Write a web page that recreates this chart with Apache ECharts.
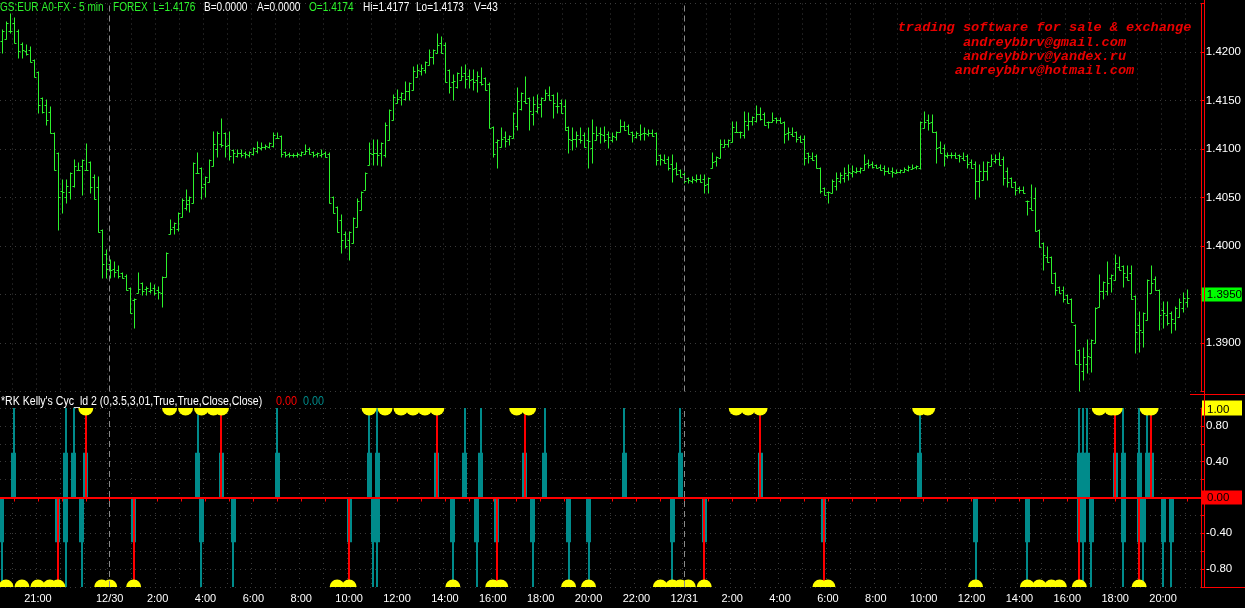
<!DOCTYPE html>
<html><head><meta charset="utf-8">
<script src="https://cdn.jsdelivr.net/npm/echarts@6/dist/echarts.min.js"></script>
<style>html,body{margin:0;padding:0;background:#000;overflow:hidden;}#c{width:1245px;height:608px;}</style>
</head><body><div id="c"></div>
<script>
// ---------- DATA ----------
// 10-minute bars starting 12/29 19:30; prices in pips (1.4176 -> 14176)
const barStart = {day: 29, minutes: 19 * 60 + 30};
const barMinutes = 10;
const slotCount = 301;
const priceHigh = [14223,14231,14239,14235,14223,14209,14207,14205,14192,14179,
14153,14151,14143,14117,14096,14068,14068,14075,14089,14086,
14089,14105,14087,14073,14071,14017,13996,13986,13983,13979,
13972,13970,13957,13945,13972,13962,13958,13962,13960,13958,
13968,13993,14027,14024,14034,14048,14058,14051,14086,14096,
14080,14071,14089,14118,14118,14131,14117,14118,14099,14099,
14099,14097,14097,14101,14107,14106,14104,14106,14117,14117,
14113,14097,14096,14095,14096,14097,14104,14101,14097,14096,
14099,14097,14096,14051,14040,14032,14014,14014,14029,14048,
14056,14075,14106,14109,14109,14106,14127,14140,14156,14161,
14158,14169,14168,14185,14187,14187,14190,14202,14202,14219,
14215,14209,14181,14176,14178,14185,14187,14181,14181,14179,
14184,14173,14168,14123,14109,14122,14118,14113,14137,14163,
14158,14174,14153,14154,14156,14153,14161,14164,14156,14158,
14151,14151,14123,14122,14118,14122,14117,14122,14130,14123,
14122,14123,14118,14117,14118,14130,14128,14125,14118,14118,
14125,14122,14120,14120,14117,14094,14094,14092,14094,14086,
14078,14075,14070,14071,14073,14073,14073,14070,14096,14092,
14109,14109,14109,14128,14128,14118,14138,14137,14133,14144,
14142,14137,14128,14137,14132,14132,14128,14122,14122,14118,
14113,14113,14096,14096,14094,14080,14060,14056,14068,14075,
14075,14080,14083,14082,14080,14080,14094,14089,14087,14083,
14083,14082,14080,14080,14078,14078,14080,14082,14083,14082,
14128,14138,14135,14135,14118,14107,14104,14096,14096,14096,
14094,14096,14094,14089,14087,14083,14087,14087,14094,14094,
14096,14092,14080,14070,14066,14061,14061,14046,14063,14060,
14017,14003,13999,13989,13972,13958,13958,13950,13945,13919,
13893,13895,13903,13903,13936,13970,13963,13984,13970,13991,
13989,13979,13979,13979,13948,13932,13931,13965,13979,13968,
13955,13942,13942,13932,13937,13945,13952,13955];
const priceLow = [14199,14213,14220,14209,14194,14194,14197,14190,14174,14137,
14137,14125,14117,14078,14017,14034,14044,14048,14061,14078,
14053,14078,14055,14048,14014,13967,13967,13967,13968,13967,
13967,13955,13931,13915,13952,13950,13950,13952,13950,13945,
13937,13968,14012,14012,14015,14030,14037,14035,14044,14075,
14048,14051,14066,14082,14092,14102,14092,14089,14086,14092,
14092,14091,14092,14094,14096,14099,14100,14101,14102,14111,
14092,14092,14092,14092,14092,14093,14095,14095,14092,14092,
14092,14092,14044,14034,14014,13993,13998,13986,14003,14020,
14037,14058,14083,14083,14083,14082,14092,14109,14130,14147,
14145,14151,14151,14161,14174,14176,14178,14187,14188,14199,
14199,14169,14158,14151,14163,14171,14163,14163,14161,14159,
14166,14161,14122,14092,14080,14102,14102,14104,14111,14120,
14140,14147,14120,14125,14137,14133,14151,14151,14132,14137,
14137,14120,14096,14099,14102,14106,14102,14080,14086,14109,
14106,14107,14101,14107,14109,14118,14120,14115,14107,14111,
14109,14109,14113,14113,14083,14083,14086,14078,14066,14073,
14071,14065,14065,14065,14066,14066,14055,14055,14080,14082,
14091,14102,14102,14107,14118,14111,14111,14120,14125,14128,
14130,14125,14122,14128,14127,14127,14106,14109,14113,14107,
14107,14083,14086,14089,14080,14055,14053,14044,14055,14058,
14065,14066,14068,14071,14075,14075,14078,14080,14080,14080,
14078,14073,14075,14071,14075,14075,14076,14077,14079,14079,
14079,14122,14120,14118,14086,14096,14082,14091,14091,14091,
14087,14089,14080,14080,14048,14051,14068,14068,14082,14086,
14083,14063,14061,14061,14053,14055,14055,14032,14037,14015,
13999,13975,13983,13962,13950,13952,13942,13941,13922,13878,
13850,13862,13869,13870,13900,13937,13945,13950,13953,13965,
13975,13958,13965,13945,13890,13891,13896,13924,13952,13955,
13913,13915,13919,13910,13913,13927,13932,13937];

// indicator: [bar index, value]
const tealSpikes = [[3,1],[16,1],[18,1],[49,1],[69,1],[92,1],[94,1],[116,1],[120,1],[136,1],[156,1],[170,1],[230,1],[270,1],[271,1],[272,1],[281,1],[285,1],[287,1],
  [0,-1],[16,-1],[20,-1],[50,-1],[58,-1],[93,-1],[94,-1],[113,-1],[119,-1],[133,-1],[142,-1],[147,-1],[168,-1],[244,-1],[257,-1],[271,-1],[273,-1],[281,-1],[286,-1],[291,-1],[293,-1]];
const redSpikes = [[21,1],[55,1],[109,1],[131,1],[190,1],[279,1],[288,1],
  [14,-1],[33,-1],[87,-1],[124,-1],[176,-1],[206,-1],[270,-1],[285,-1]];
const spikeInnerLevel = 0.5;
const yellowDots = [[21,1],[42,1],[46,1],[50,1],[53,1],[55,1],[92,1],[96,1],[100,1],[103,1],[106,1],[109,1],[129,1],[132,1],[184,1],[187,1],[190,1],[230,1],[232,1],[275,1],[278,1],[279,1],[287,1],[288,1],
  [1,-1],[5,-1],[9,-1],[12,-1],[14,-1],[25,-1],[27,-1],[33,-1],[84,-1],[87,-1],[113,-1],[123,-1],[125,-1],[142,-1],[147,-1],[165,-1],[168,-1],[170,-1],[172,-1],[176,-1],[205,-1],[207,-1],[244,-1],[257,-1],[260,-1],[263,-1],[265,-1],[270,-1],[285,-1]];

const labelTimes = ['12/29 21:00','12/30 00:00','12/30 02:00','12/30 04:00','12/30 06:00','12/30 08:00','12/30 10:00','12/30 12:00','12/30 14:00','12/30 16:00','12/30 18:00','12/30 20:00','12/30 22:00','12/31 00:00','12/31 02:00','12/31 04:00','12/31 06:00','12/31 08:00','12/31 10:00','12/31 12:00','12/31 14:00','12/31 16:00','12/31 18:00','12/31 20:00'];
const labelTexts = ['21:00','12/30','2:00','4:00','6:00','8:00','10:00','12:00','14:00','16:00','18:00','20:00','22:00','12/31','2:00','4:00','6:00','8:00','10:00','12:00','14:00','16:00','18:00','20:00'];
const dayBreaks = ['12/30 00:00','12/31 00:00'];
const priceTicks = {min: 1.385, max: 1.425, step: 0.005, highlight: '1.3950'};

const headerParts = [
  ['GS:EUR A0-FX - 5 min', 'g'], ['FOREX', 'g'], ['L=1.4176', 'g'], ['B=0.0000', 'w'], ['A=0.0000', 'w'],
  ['O=1.4174', 'g'], ['Hi=1.4177', 'w'], ['Lo=1.4173', 'w'], ['V=43', 'w']];
const headerX = [0, 113, 153, 204, 257, 309, 363, 416, 474];
const adLines = ['trading software for sale & exchange', 'andreybbrv@gmail.com', 'andreybbrv@yandex.ru', 'andreybbrv@hotmail.com'];

// ---------- BUILD ----------
const categories = [];
for (let i = 0; i < slotCount; i++) {
  const m = barStart.minutes + i * barMinutes;
  const day = barStart.day + Math.floor(m / 1440);
  const mm = m % 1440;
  categories.push('12/' + day + ' ' + String(Math.floor(mm / 60)).padStart(2, '0') + ':' + String(mm % 60).padStart(2, '0'));
}
const priceData = priceHigh.map((h, i) => [i, priceLow[i] / 10000, h / 10000]);
const allSpikes = tealSpikes.concat(redSpikes);
const innerData = allSpikes.map(s => [s[0], s[1] * spikeInnerLevel]);

const GREEN = '#2cf22c', TEAL = '#008b8b', RED = '#ff0000', YEL = '#ffff00';
const GRIDC = '#3a3a3a';
const FONT = 'Liberation Sans';
const isHour = (v) => v.slice(-2) === '00';

function spikeRender(width, color) {
  return function (params, api) {
    const x = api.value(0), v = api.value(1);
    const p0 = api.coord([x, 0]), p1 = api.coord([x, v]);
    const top = Math.min(p0[1], p1[1]), h = Math.abs(p1[1] - p0[1]);
    return {type: 'rect', shape: {x: Math.round(p0[0] - width / 2), y: top, width: width, height: h}, style: {fill: color}};
  };
}
// level where a bar's side tick meets its neighbour
function joinLevel(i, j) {
  if (j < 0 || j >= priceHigh.length) return (priceHigh[i] + priceLow[i]) / 2;
  const mid = (priceHigh[j] + priceLow[j]) / 2;
  return Math.min(priceHigh[i], Math.max(priceLow[i], mid));
}

const chart = echarts.init(document.getElementById('c'), null, {renderer: 'canvas'});
const graphics = [];
headerParts.forEach((p, i) => graphics.push({type: 'text', x: headerX[i], y: 8, scaleX: 0.84, z: 100,
  style: {x: 0, y: 0, text: p[0], fill: p[1] === 'g' ? GREEN : '#ffffff', font: '12px "' + FONT + '"', textVerticalAlign: 'middle'}}));
adLines.forEach((t, i) => graphics.push({type: 'text', z: 100, x: 1044.5, y: 28 + i * 14.3,
  style: {text: t, fill: '#e80000', font: 'italic bold 13.6px "Liberation Mono"', textAlign: 'center', textVerticalAlign: 'middle'}}));
graphics.push({type: 'text', x: 1, y: 402, scaleX: 0.88, z: 100, style: {x: 0, y: 0, text: "*RK Kelly's Cyc_ld 2 (0,3.5,3,01,True,True,Close,Close)", fill: '#fff', font: '12px "' + FONT + '"', textVerticalAlign: 'middle'}});
graphics.push({type: 'text', x: 276, y: 402, scaleX: 0.9, z: 100, style: {x: 0, y: 0, text: '0.00', fill: RED, font: '12px "' + FONT + '"', textVerticalAlign: 'middle'}});
graphics.push({type: 'text', x: 303, y: 402, scaleX: 0.9, z: 100, style: {x: 0, y: 0, text: '0.00', fill: TEAL, font: '12px "' + FONT + '"', textVerticalAlign: 'middle'}});
graphics.push({type: 'line', z: 50, shape: {x1: 1204.5, y1: 0, x2: 1204.5, y2: 588}, style: {stroke: RED, lineWidth: 1}});
graphics.push({type: 'line', z: 50, shape: {x1: 1190, y1: 394.5, x2: 1245, y2: 394.5}, style: {stroke: RED, lineWidth: 1}});
graphics.push({type: 'line', z: 50, shape: {x1: 1204, y1: 587.5, x2: 1245, y2: 587.5}, style: {stroke: RED, lineWidth: 1}});

const baseX = {
  type: 'category', data: categories, boundaryGap: true,
  axisLine: {show: false}, axisTick: {show: false}, axisLabel: {show: false},
  splitLine: {show: true, interval: (i, v) => isHour(v), lineStyle: {color: GRIDC, type: [1, 4]}}
};
const tok = (extra) => Object.assign({color: '#fff', fontSize: 11.5, fontFamily: FONT, align: 'left', width: 35, height: 12, lineHeight: 12, padding: [1, 1, 1, 4]}, extra || {});
const labelBase = {color: '#fff', fontFamily: FONT, fontSize: 11.5, margin: 1, align: 'left', verticalAlign: 'middle'};

chart.setOption({
  backgroundColor: '#000',
  animation: false,
  grid: [
    {left: 0, right: 41, top: 3.5, height: 388},
    {left: 0, right: 41, top: 408, height: 179}
  ],
  xAxis: [
    Object.assign({gridIndex: 0}, baseX),
    Object.assign({}, baseX, {
      gridIndex: 1,
      axisLine: {show: true, lineStyle: {color: RED, width: 1}},
      axisTick: {show: true, alignWithLabel: true, interval: (i, v) => isHour(v), length: 4, lineStyle: {color: RED}},
      axisLabel: {show: true, color: '#fff', fontFamily: FONT, fontSize: 11, margin: 6,
        interval: (i, v) => labelTimes.indexOf(v) >= 0,
        formatter: (v) => { const k = labelTimes.indexOf(v); return k >= 0 ? labelTexts[k] : ''; }}
    })
  ],
  yAxis: [
    {type: 'value', gridIndex: 0, position: 'right', min: priceTicks.min, max: priceTicks.max, interval: priceTicks.step,
      axisLine: {show: true, lineStyle: {color: RED}},
      axisTick: {show: true, length: 4, lineStyle: {color: RED}},
      splitLine: {show: true, lineStyle: {color: GRIDC, type: [1, 4]}},
      axisLabel: Object.assign({}, labelBase, {
        formatter: (v) => { const s = v.toFixed(4); if (s === priceTicks.highlight) return '{g|' + s + '}';
          if (Math.abs(v - priceTicks.min) < 1e-7 || Math.abs(v - priceTicks.max) < 1e-7) return ''; return '{n|' + s + '}'; },
        rich: {n: tok(), g: tok({backgroundColor: '#00ff00', color: '#000', padding: [1, 0, 1, 5]})}})},
    {type: 'value', gridIndex: 1, position: 'right', min: -1, max: 1, interval: 0.2,
      axisLine: {show: true, lineStyle: {color: RED}},
      axisTick: {show: true, length: 4, lineStyle: {color: RED}},
      splitLine: {show: true, lineStyle: {color: GRIDC, type: [1, 4]}},
      axisLabel: Object.assign({}, labelBase, {showMinLabel: true, showMaxLabel: true,
        formatter: (v) => { const r = Math.round(v * 100) / 100;
          if (r === 1) return '{y|1.00}'; if (r === 0) return '{r|0.00}';
          if (Math.abs(r) === 0.8 || Math.abs(r) === 0.4) return '{n|' + r.toFixed(2) + '}'; return ''; },
        rich: {n: tok(), y: tok({backgroundColor: YEL, color: '#000', padding: [3, 0, 0, 5]}),
               r: tok({backgroundColor: RED, color: '#000', padding: [1, 0, 1, 5]})}})}
  ],
  series: [
    {type: 'custom', name: 'price', xAxisIndex: 0, yAxisIndex: 0, data: priceData, clip: true,
      encode: {x: 0, y: [1, 2]},
      renderItem: (params, api) => {
        const i = api.value(0);
        const a = api.coord([i, api.value(2)]), b = api.coord([i, api.value(1)]);
        const x = Math.round(a[0]) + 0.5;
        const yl = api.coord([i, joinLevel(i, i - 1) / 10000])[1];
        const yr = api.coord([i, joinLevel(i, i + 1) / 10000])[1];
        const st = {stroke: GREEN, lineWidth: 1};
        return {type: 'group', children: [
          {type: 'line', shape: {x1: x, y1: Math.round(a[1]) - 0.5, x2: x, y2: Math.round(b[1]) + 0.5}, style: st},
          {type: 'line', shape: {x1: x - 2, y1: Math.round(yl) + 0.5, x2: x, y2: Math.round(yl) + 0.5}, style: st},
          {type: 'line', shape: {x1: x, y1: Math.round(yr) + 0.5, x2: x + 2, y2: Math.round(yr) + 0.5}, style: st}
        ]};
      },
      markLine: {silent: true, symbol: 'none', label: {show: false}, lineStyle: {color: '#8a8a8a', type: [6, 4], width: 1},
        data: dayBreaks.map(d => ({xAxis: d}))}},
    {type: 'custom', name: 'inner', xAxisIndex: 1, yAxisIndex: 1, data: innerData, renderItem: spikeRender(5, TEAL),
      markLine: {silent: true, symbol: 'none', label: {show: false}, lineStyle: {color: '#8a8a8a', type: [6, 4], width: 1},
        data: dayBreaks.map(d => ({xAxis: d}))}},
    {type: 'custom', name: 'teal', xAxisIndex: 1, yAxisIndex: 1, data: tealSpikes, renderItem: spikeRender(2, TEAL)},
    {type: 'custom', name: 'red', xAxisIndex: 1, yAxisIndex: 1, data: redSpikes, renderItem: spikeRender(2, RED),
      markLine: {silent: true, symbol: 'none', label: {show: false}, lineStyle: {color: RED, type: 'solid', width: 2}, data: [{yAxis: 0}]}},
    {type: 'custom', name: 'yellow', xAxisIndex: 1, yAxisIndex: 1, data: yellowDots, clip: true,
      renderItem: (params, api) => {
        const p = api.coord([api.value(0), api.value(1)]);
        const up = api.value(1) > 0;
        return {type: 'sector', shape: {cx: p[0], cy: p[1], r0: 0, r: 7.5, startAngle: up ? 0 : Math.PI, endAngle: up ? Math.PI : Math.PI * 2, clockwise: true}, style: {fill: YEL}};
      }}
  ],
  graphic: graphics
});
</script></body></html>
